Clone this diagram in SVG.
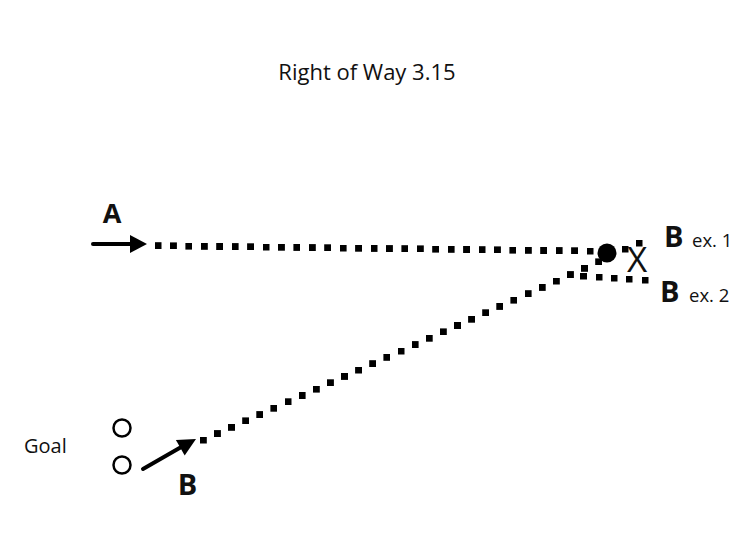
<svg xmlns="http://www.w3.org/2000/svg" width="750" height="548" viewBox="0 0 750 548">
<style>
.t{font-family:"Open Sans","Noto Sans",sans-serif;fill:#111}
.b{font-family:"Open Sans","Noto Sans",sans-serif;font-weight:bold;fill:#111}
.dots{fill:none;stroke:none;marker-start:url(#sq);marker-mid:url(#sq);marker-end:url(#sq)}
.ar{stroke:#000;stroke-width:4;fill:none;stroke-linecap:round}
.goal{fill:#fff;stroke:#000;stroke-width:2.5}
</style>
<defs>
<marker id="sq" viewBox="-3.5 -3.5 7 7" refX="0" refY="0" markerWidth="7" markerHeight="7" orient="0" markerUnits="userSpaceOnUse">
<rect x="-3.5" y="-3.5" width="7" height="7" fill="#000"/>
</marker>
</defs>
<rect width="750" height="548" fill="#fff"/>
<text class="t" x="367" y="80" font-size="22" text-anchor="middle">Right of Way 3.15</text>
<g id="connectors">
<path class="dots" d="M158,245.7 L173.4,245.9 L188.9,246.1 L204.3,246.3 L219.7,246.5 L235.1,246.6 L250.6,246.8 L266,247 L281.4,247.2 L296.9,247.4 L312.3,247.6 L327.7,247.8 L343.1,248 L358.6,248.2 L374,248.4 L389.4,248.6 L404.9,248.7 L420.3,248.9 L435.7,249.1 L451.1,249.3 L466.6,249.5 L482,249.7 L497.4,249.9 L512.9,250.1 L528.3,250.3 L543.7,250.5 L559.1,250.6 L574.6,250.8 L590,251"/>
<path class="dots" d="M625,249 L639,243"/>
<path class="dots" d="M203.3,440 L217.4,433.6 L231.5,427.3 L245.7,420.9 L259.8,414.6 L273.9,408.2 L288,401.8 L302.1,395.5 L316.3,389.1 L330.4,382.8 L344.5,376.4 L358.6,370 L372.7,363.7 L386.9,357.3 L401,351 L415.1,344.6 L429.2,338.2 L443.3,331.9 L457.5,325.5 L471.6,319.2 L485.7,312.8 L499.8,306.4 L513.9,300.1 L528.1,293.7 L542.2,287.4 L556.3,281 L570.4,274.6 L584.5,268.3 L598.7,261.9"/>
<path class="dots" d="M583.5,276 L599,277 L614,278 L629,279 L645,280"/>
<line class="ar" x1="93" y1="244" x2="133" y2="244"/>
<polygon points="130,235 147,244 130,253" fill="#000"/>
<line class="ar" x1="143" y1="469" x2="183" y2="446"/>
<polygon points="196,439 184.7,455.6 175.9,440" fill="#000"/>
</g>
<g id="ball"><circle cx="607" cy="253" r="9.5" fill="#000"/></g>
<g id="x-mark"><text class="t" x="637" y="272" font-size="35" text-anchor="middle">X</text></g>
<g id="node-A"><text class="b" x="112" y="223" font-size="27" text-anchor="middle">A</text></g>
<g id="node-B-ex1"><text class="b" x="664" y="247" font-size="29">B</text><text class="t" x="692" y="247" font-size="18.5">ex. 1</text></g>
<g id="node-B-ex2"><text class="b" x="660" y="302" font-size="29">B</text><text class="t" x="689" y="302" font-size="18.5">ex. 2</text></g>
<g id="goal"><circle class="goal" cx="122" cy="428" r="8.5"/><circle class="goal" cx="122" cy="465" r="8.5"/><text class="t" x="24" y="453" font-size="20">Goal</text></g>
<g id="node-B"><text class="b" x="187.5" y="495" font-size="29" text-anchor="middle">B</text></g>
</svg>
